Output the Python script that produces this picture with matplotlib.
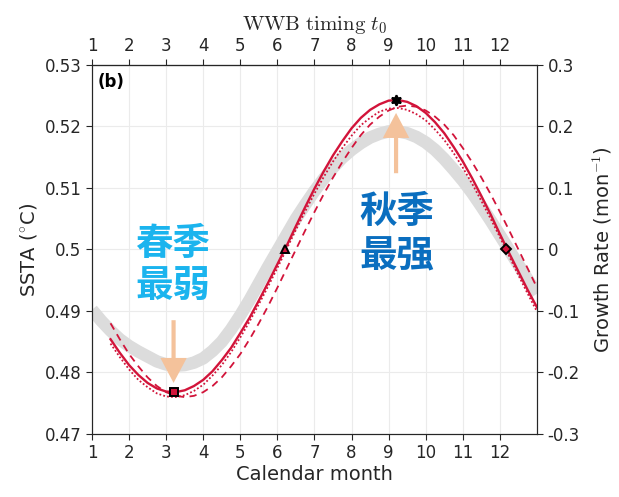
import matplotlib
matplotlib.use("Agg")
import matplotlib.pyplot as plt
import numpy as np
from matplotlib.patches import FancyArrowPatch, ArrowStyle

plt.rcParams["font.family"] = ["DejaVu Sans"]
plt.rcParams["mathtext.fontset"] = "cm"
plt.rcParams["axes.unicode_minus"] = False

# SSTA response (left axis), quarter-month steps from 1 to 13
ssta_month = np.arange(1.0, 13.01, 0.25)
ssta = [0.4902, 0.4884, 0.4868, 0.4854, 0.4843, 0.4834, 0.4826, 0.4818, 0.4813,
        0.4811, 0.4812, 0.4816, 0.4823, 0.4835, 0.4850, 0.4870, 0.4893, 0.4918,
        0.4945, 0.4972, 0.4998, 0.5024, 0.5050, 0.5073, 0.5095, 0.5115, 0.5133,
        0.5149, 0.5162, 0.5173, 0.5182, 0.5188, 0.5192, 0.5192, 0.5189, 0.5183,
        0.5174, 0.5162, 0.5147, 0.5130, 0.5112, 0.5092, 0.5070, 0.5047, 0.5023,
        0.4999, 0.4975, 0.4951, 0.4928]

# growth rate curves (right axis), quarter-month steps from 1.5 to 13
gr_month = np.arange(1.5, 13.01, 0.25)
gr_solid = [-0.146, -0.168, -0.188, -0.204, -0.217, -0.226, -0.231, -0.232,
            -0.229, -0.222, -0.212, -0.198, -0.180, -0.160, -0.136, -0.111,
            -0.083, -0.054, -0.024, 0.006, 0.038, 0.069, 0.099, 0.127, 0.153,
            0.176, 0.197, 0.214, 0.227, 0.236, 0.242, 0.243, 0.240, 0.233,
            0.222, 0.207, 0.189, 0.167, 0.143, 0.116, 0.087, 0.057, 0.025,
            -0.006, -0.036, -0.066, -0.094]
gr_dotted = [-0.153, -0.175, -0.195, -0.212, -0.224, -0.234, -0.239, -0.240,
             -0.237, -0.230, -0.220, -0.205, -0.188, -0.167, -0.143, -0.117,
             -0.089, -0.060, -0.030, 0.001, 0.032, 0.062, 0.091, 0.118, 0.143,
             0.165, 0.185, 0.202, 0.214, 0.224, 0.229, 0.230, 0.227, 0.220,
             0.210, 0.195, 0.178, 0.157, 0.133, 0.107, 0.079, 0.050, 0.020,
             -0.011, -0.042, -0.072, -0.101]
gr_dashed = [-0.120, -0.146, -0.170, -0.190, -0.208, -0.222, -0.232, -0.238,
             -0.240, -0.238, -0.232, -0.222, -0.208, -0.190, -0.170, -0.146,
             -0.120, -0.092, -0.062, -0.031, 0.000, 0.031, 0.061, 0.090, 0.117,
             0.142, 0.165, 0.186, 0.203, 0.216, 0.226, 0.232, 0.234, 0.232,
             0.226, 0.216, 0.203, 0.186, 0.165, 0.142, 0.117, 0.090, 0.061,
             0.031, 0.000, -0.031, -0.062]

# key points on the solid curve: min, rising zero, max, falling zero
key_month = [3.2, 6.2, 9.2, 12.17]
key_rate = [-0.232, 0.0, 0.243, 0.0]
key_marker = ["s", "^", (6, 1, 0), "D"]

month_ticks = list(range(1, 13))
ssta_ticks = [0.47, 0.48, 0.49, 0.50, 0.51, 0.52, 0.53]
ssta_ticklabels = ["0.47", "0.48", "0.49", "0.5", "0.51", "0.52", "0.53"]
rate_ticks = [-0.3, -0.2, -0.1, 0.0, 0.1, 0.2, 0.3]
rate_ticklabels = ["-0.3", "-0.2", "-0.1", "0", "0.1", "0.2", "0.3"]

RED = "#D2143A"
INK = "#262626"
PEACH = "#F4C29B"

fig = plt.figure(figsize=(6.19, 4.97), dpi=100)
ax = fig.add_axes([0.1486, 0.1268, 0.7189, 0.7425])
ax2 = ax.twinx()

ax.plot(ssta_month, ssta, color="#DCDCDC", lw=9, solid_capstyle="butt", zorder=2)
ax.set_xlim(1, 13)
ax.set_ylim(0.47, 0.53)
ax.set_xticks(month_ticks)
ax.set_yticks(ssta_ticks)
ax.set_yticklabels(ssta_ticklabels)
ax.grid(True, color="#EBEBEB", lw=0.8)
ax.set_axisbelow(True)
ax.set_xlabel("Calendar month", fontsize=14, color=INK, labelpad=2)
ax.set_ylabel(r"SSTA ($^{\circ}$C)", fontsize=14, color=INK, labelpad=4)

top = ax.secondary_xaxis("top")
top.set_xticks(month_ticks)
top.set_xlabel(r"$\mathrm{WWB\ timing}\ t_0$", fontsize=15, color=INK, labelpad=5)

ax2.plot(gr_month, gr_dashed, color=RED, lw=1.3, ls=(0, (4, 3)), zorder=3)
ax2.plot(gr_month, gr_dotted, color=RED, lw=1.3, ls=(0, (1, 1.2)), zorder=3)
ax2.plot(gr_month, gr_solid, color=RED, lw=1.7, zorder=4)
for m, r, mk in zip(key_month, key_rate, key_marker):
    star = mk == (6, 1, 0)
    ax2.plot(m, r, marker=mk, ms=7.5 if star else 5.5, mfc="black" if star else RED,
             mec="black", mew=1.4, zorder=6)
ax2.set_ylim(-0.3, 0.3)
ax2.set_yticks(rate_ticks)
ax2.set_yticklabels(rate_ticklabels)
ax2.set_ylabel(r"Growth Rate (mon$^{-1}$)", fontsize=14, color=INK, labelpad=8)

for a in (ax, ax2, top):
    a.tick_params(direction="out", length=4, width=0.8, colors=INK, labelsize=12)
    for s in a.spines.values():
        s.set_color(INK)
        s.set_linewidth(0.8)

# seasonal arrows (right-axis coordinates)
arrow_x = [3.2, 9.2]
arrow_from = [-0.115, 0.124]
arrow_to = [-0.217, 0.222]
for x, y0, y1 in zip(arrow_x, arrow_from, arrow_to):
    ax2.add_patch(FancyArrowPatch(
        (x, y0), (x, y1), transform=ax2.transData,
        arrowstyle=ArrowStyle.Simple(head_length=18, head_width=19, tail_width=3),
        mutation_scale=1, shrinkA=0, shrinkB=0, color=PEACH, lw=0, zorder=7))

cjk = ["Noto Sans CJK SC", "DejaVu Sans"]
ax2.text(3.17, 0.010, "春季", family=cjk, weight="black", fontsize=27,
         color="#1BB4EE", ha="center", va="center", zorder=8)
ax2.text(3.17, -0.060, "最弱", family=cjk, weight="black", fontsize=27,
         color="#1BB4EE", ha="center", va="center", zorder=8)
ax2.text(9.21, 0.062, "秋季", family=cjk, weight="black", fontsize=27,
         color="#0A6EBF", ha="center", va="center", zorder=8)
ax2.text(9.21, -0.010, "最强", family=cjk, weight="black", fontsize=27,
         color="#0A6EBF", ha="center", va="center", zorder=8)

ax.text(0.012, 0.955, "(b)", transform=ax.transAxes, fontsize=12,
        weight="bold", color="black", ha="left", va="center", zorder=9)

fig.savefig("out.png", dpi=100)
